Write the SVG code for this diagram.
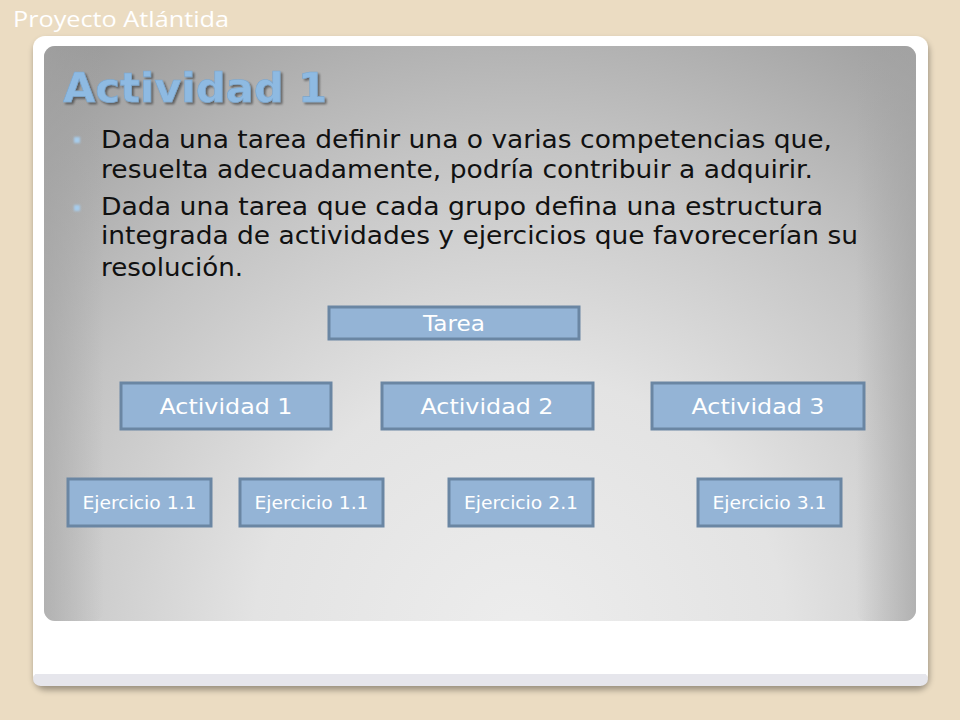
<svg xmlns="http://www.w3.org/2000/svg" width="960" height="720" viewBox="0 0 960 720">
<defs>
<radialGradient id="panel" gradientUnits="userSpaceOnUse" cx="520" cy="640" r="760" fx="520" fy="640">
<stop offset="0" stop-color="#EDEDED"/>
<stop offset="0.35" stop-color="#E3E3E3"/>
<stop offset="0.65" stop-color="#C4C4C4"/>
<stop offset="1" stop-color="#979797"/>
</radialGradient>
<linearGradient id="edgeL" x1="0" y1="0" x2="1" y2="0">
<stop offset="0" stop-color="#A4A4A4" stop-opacity="0.6"/>
<stop offset="1" stop-color="#A4A4A4" stop-opacity="0"/>
</linearGradient>
<linearGradient id="edgeR" x1="1" y1="0" x2="0" y2="0">
<stop offset="0" stop-color="#A4A4A4" stop-opacity="0.7"/>
<stop offset="1" stop-color="#A4A4A4" stop-opacity="0"/>
</linearGradient>
<filter id="shadow" x="-5%" y="-5%" width="110%" height="115%">
<feGaussianBlur in="SourceAlpha" stdDeviation="3"/>
<feOffset dx="1" dy="4"/>
<feComponentTransfer><feFuncA type="linear" slope="0.35"/></feComponentTransfer>
<feMerge><feMergeNode/><feMergeNode in="SourceGraphic"/></feMerge>
</filter>
<filter id="tshadow" x="-5%" y="-10%" width="110%" height="130%">
<feGaussianBlur in="SourceAlpha" stdDeviation="1"/>
<feOffset dx="2" dy="2"/>
<feComponentTransfer><feFuncA type="linear" slope="0.45"/></feComponentTransfer>
<feMerge><feMergeNode/><feMergeNode in="SourceGraphic"/></feMerge>
</filter>
<filter id="soft" x="-50%" y="-50%" width="200%" height="200%"><feGaussianBlur stdDeviation="0.8"/></filter>
<style>
.node rect{fill:#94B4D6;stroke:#6A86A3;stroke-width:3}
.lbl{font-family:"DejaVu Sans",Verdana,sans-serif;fill:#FFFFFF;text-anchor:middle}
.body{font-family:"DejaVu Sans",Verdana,sans-serif;font-size:24.5px;fill:#111111}
.bul{fill:#A6CCEC}
</style>
</defs>
<rect x="0" y="0" width="960" height="720" fill="#EBDCC2"/>
<text x="13" y="27" font-family="'Open Sans','Noto Sans',sans-serif" font-size="21.5" fill="#FFFFFF" textLength="216" lengthAdjust="spacingAndGlyphs">Proyecto Atlántida</text>
<rect x="33" y="36" width="895" height="650" rx="12" fill="#FFFFFF" filter="url(#shadow)"/>
<rect x="33" y="672" width="895" height="14" rx="8" fill="#E6E6EC"/>
<rect x="33" y="660" width="895" height="14" fill="#FFFFFF"/>
<rect x="44" y="46" width="872" height="575" rx="11" fill="url(#panel)"/>
<rect x="44" y="46" width="60" height="575" rx="11" fill="url(#edgeL)"/>
<rect x="856" y="46" width="60" height="575" rx="11" fill="url(#edgeR)"/>
<text x="63" y="102" font-family="'DejaVu Sans',Verdana,sans-serif" font-weight="bold" font-size="41" fill="#8EBAE2" stroke="#7AA6CE" stroke-width="0.6" filter="url(#tshadow)" textLength="264" lengthAdjust="spacingAndGlyphs">Actividad 1</text>
<rect class="bul" x="74" y="137" width="6" height="6" filter="url(#soft)"/>
<rect class="bul" x="74" y="205" width="6" height="6" filter="url(#soft)"/>
<text class="body" x="101" y="148" textLength="731" lengthAdjust="spacingAndGlyphs">Dada una tarea definir una o varias competencias que,</text>
<text class="body" x="101" y="178" textLength="712" lengthAdjust="spacingAndGlyphs">resuelta adecuadamente, podría contribuir a adquirir.</text>
<text class="body" x="101" y="215" textLength="722" lengthAdjust="spacingAndGlyphs">Dada una tarea que cada grupo defina una estructura</text>
<text class="body" x="101" y="244" textLength="757" lengthAdjust="spacingAndGlyphs">integrada de actividades y ejercicios que favorecerían su</text>
<text class="body" x="101" y="276" textLength="142" lengthAdjust="spacingAndGlyphs">resolución.</text>
<g id="connectors"></g>
<g id="tarea" class="node"><rect x="329" y="307" width="250" height="32"/><text class="lbl" x="454" y="331" font-size="21" textLength="62" lengthAdjust="spacingAndGlyphs">Tarea</text></g>
<g id="actividad1" class="node"><rect x="121" y="383" width="210" height="46"/><text class="lbl" x="226" y="414" font-size="21.5" textLength="133" lengthAdjust="spacingAndGlyphs">Actividad 1</text></g>
<g id="actividad2" class="node"><rect x="382" y="383" width="211" height="46"/><text class="lbl" x="487" y="414" font-size="21.5" textLength="133" lengthAdjust="spacingAndGlyphs">Actividad 2</text></g>
<g id="actividad3" class="node"><rect x="652" y="383" width="212" height="46"/><text class="lbl" x="758" y="414" font-size="21.5" textLength="133" lengthAdjust="spacingAndGlyphs">Actividad 3</text></g>
<g id="ejercicio11a" class="node"><rect x="68" y="479" width="143" height="47"/><text class="lbl" x="139.5" y="509" font-size="18.5" textLength="114" lengthAdjust="spacingAndGlyphs">Ejercicio 1.1</text></g>
<g id="ejercicio11b" class="node"><rect x="240" y="479" width="143" height="47"/><text class="lbl" x="311.5" y="509" font-size="18.5" textLength="114" lengthAdjust="spacingAndGlyphs">Ejercicio 1.1</text></g>
<g id="ejercicio21" class="node"><rect x="449" y="479" width="144" height="47"/><text class="lbl" x="521" y="509" font-size="18.5" textLength="114" lengthAdjust="spacingAndGlyphs">Ejercicio 2.1</text></g>
<g id="ejercicio31" class="node"><rect x="698" y="479" width="143" height="47"/><text class="lbl" x="769.5" y="509" font-size="18.5" textLength="114" lengthAdjust="spacingAndGlyphs">Ejercicio 3.1</text></g>
</svg>
